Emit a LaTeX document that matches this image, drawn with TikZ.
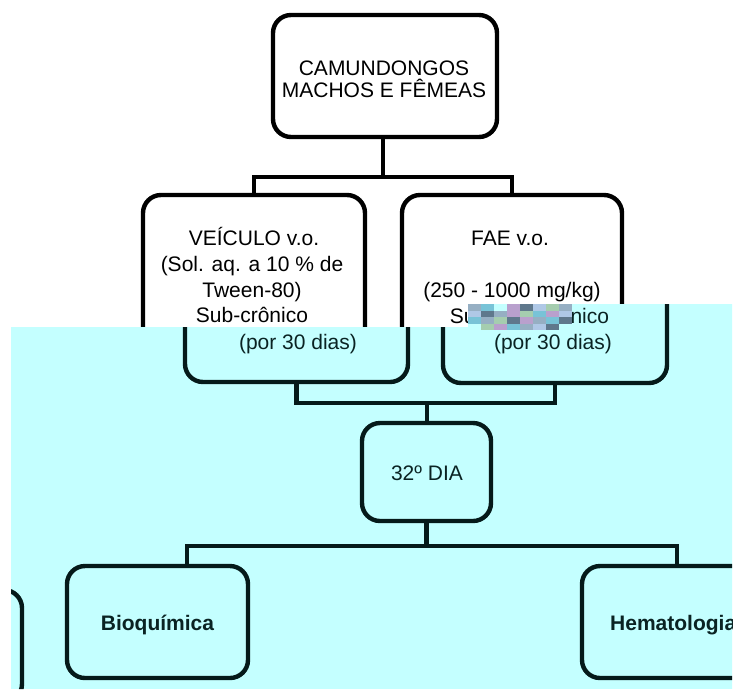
\documentclass[tikz,border=0pt]{standalone}
\usepackage{fontspec}
\setmainfont{Liberation Sans}
\definecolor{cyanbg}{RGB}{196,255,255}
\definecolor{cyanline}{RGB}{5,26,26}
\definecolor{cyantext}{RGB}{10,35,35}
\definecolor{gA}{RGB}{150,175,195}
\definecolor{gB}{RGB}{185,160,205}
\definecolor{gC}{RGB}{120,195,215}
\definecolor{gD}{RGB}{165,205,175}
\definecolor{gE}{RGB}{95,120,140}
\definecolor{gF}{RGB}{175,200,230}
\tikzset{
  box/.style={draw, line width=4.4pt, rounded corners=18pt, inner sep=0pt, outer sep=0pt},
  conn/.style={line width=4.4pt, line cap=rect},
  txt/.style={anchor=base, inner sep=0pt, font=\fontsize{21}{25}\selectfont},
  btxt/.style={txt, font=\fontsize{21}{25}\selectfont\bfseries},
}
\begin{document}
\begin{tikzpicture}[x=1pt,y=-1pt]
\useasboundingbox (0,0) rectangle (735,689);
\fill[white] (0,0) rectangle (735,689);
% ---------- upper (white) part ----------
\node[box, minimum width=224pt, minimum height=122pt] (top) at (385,76) {};
\node[txt] (t1) at (384,75) {CAMUNDONGOS};
\node[txt] (t2) at (384,97) {MACHOS E FÊMEAS};
\node[box, minimum width=222pt, minimum height=187pt] (veh) at (254,288.5) {};
\node[box, minimum width=220pt, minimum height=187pt] (fae) at (512,288.5) {};
\coordinate (b1) at (383,177);
\draw[conn] (top.south -| b1) -- (b1);
\draw[conn] (veh.north) |- (b1) -| (fae.north);
\node[txt] (v1) at (254,245) {VEÍCULO v.o.};
\node[txt] (v2) at (252,271) {(Sol. aq. a 10 \% de};
\node[txt] (v3) at (252,297) {Tween-80)};
\node[txt] (v4) at (252,322) {Sub-crônico};
\node[txt] (f1) at (510,245) {FAE v.o.};
\node[txt] (f2) at (512,297) {(250 - 1000 mg/kg)};
\begin{scope}
  \clip (400,290) rectangle (468,340);
  \node[txt] (f3) at (506,323) {Sub-crônico};
\end{scope}
% ---------- cyan overlay ----------
\begin{scope}
\path[clip] (11,327) -- (468,327) -- (468,304) -- (732,304) -- (732,689) -- (11,689) -- cycle;
\fill[cyanbg] (0,0) rectangle (735,689);
\begin{scope}[draw=cyanline, text=cyantext]
  \node[box, draw=cyanline, minimum width=223pt, minimum height=187pt] (vehL) at (296.5,288.5) {};
  \node[box, draw=cyanline, minimum width=224pt, minimum height=188pt] (faeL) at (555,289) {};
  \node[txt, text=cyantext] (p1) at (298,349) {(por 30 dias)};
  \node[txt, text=cyantext] (p2) at (553,349) {(por 30 dias)};
  \begin{scope}
    \clip (570,300) rectangle (640,340);
    \node[txt, text=cyantext] (f3L) at (553,323) {Sub-crônico};
  \end{scope}
  % glitch patch
  \foreach [count=\k from 0] \c in {gA,gC,cyanbg,gB,gE,gF,gD,gA,
                                   gF,gE,gA,gB,gD,gC,gB,gF,
                                   gC,gA,gD,gE,gB,gA,gC,gE,
                                   cyanbg,gD,gB,gC,gA,gF,gE,cyanbg}{
    \pgfmathsetmacro{\cx}{468+13*mod(\k,8)}
    \pgfmathsetmacro{\cy}{304+6.5*floor(\k/8)}
    \fill[\c] (\cx,\cy) rectangle ++(13,6.5);
  }
  \coordinate (b2) at (427,403);
  \draw[conn, cyanline] (vehL.south) |- (b2) -| (faeL.south);
  \node[box, draw=cyanline, minimum width=129pt, minimum height=98pt] (dia) at (426.5,472) {};
  \draw[conn, cyanline] (b2) -- (b2 |- dia.north);
  \node[txt, text=cyantext] (d1) at (427,480) {32º DIA};
  \node[box, draw=cyanline, minimum width=181pt, minimum height=112pt] (bio) at (157.5,622) {};
  \node[box, draw=cyanline, minimum width=181pt, minimum height=112pt] (hem) at (672.5,622) {};
  \node[box, draw=cyanline, minimum width=181pt, minimum height=112pt] (prt) at (-68.5,646) {};
  \coordinate (jl) at (187,546);
  \coordinate (jr) at (677,546);
  \draw[conn, cyanline] (dia.south) -- (dia.south |- jl);
  \draw[conn, cyanline] (jl |- bio.north) -- (jl) -- (jr) -- (jr |- hem.north);
  \node[btxt, text=cyantext] (bq) at (157.5,630) {Bioquímica};
  \node[btxt, text=cyantext, anchor=base west] (hm) at (610,630) {Hematologia};
\end{scope}
\end{scope}
\end{tikzpicture}
\end{document}
